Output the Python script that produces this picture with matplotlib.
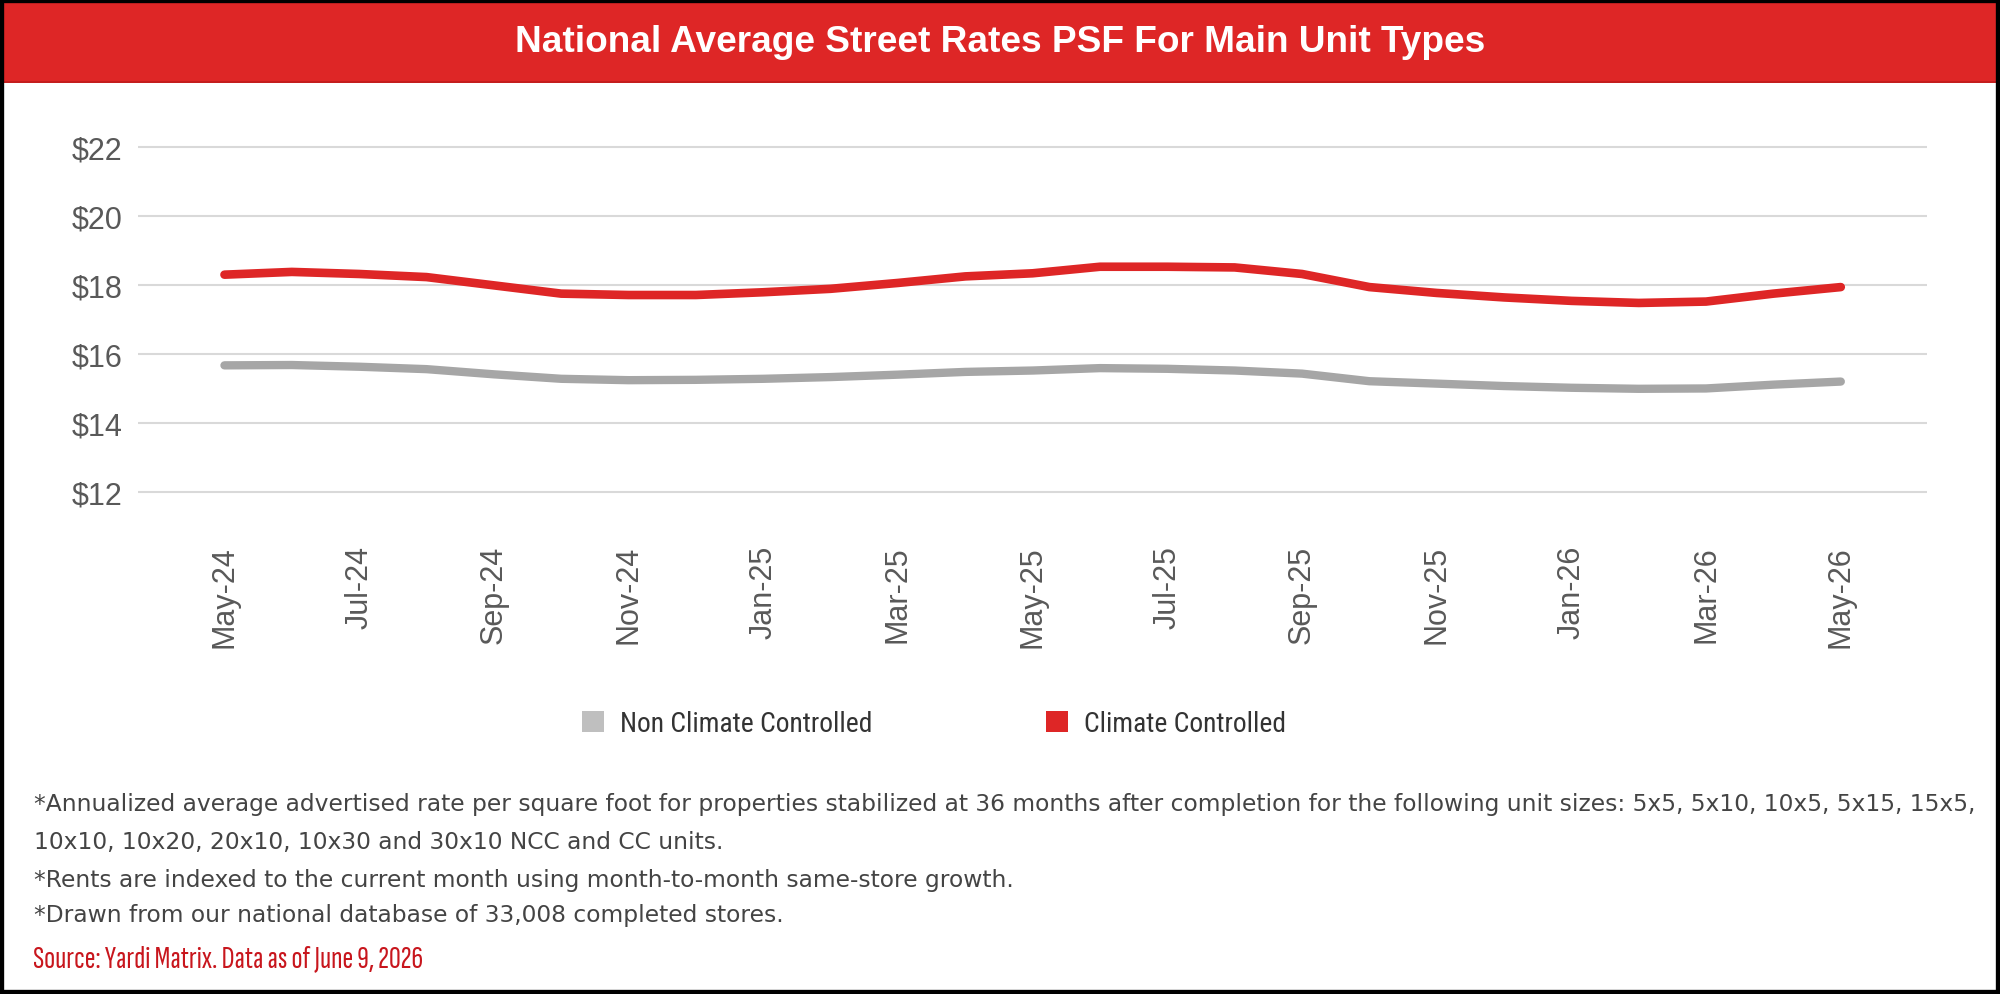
import matplotlib
matplotlib.use('Agg')
import matplotlib.pyplot as plt
from matplotlib import font_manager
from matplotlib.patches import Rectangle, Patch

# --- Data ---
months = ['May-24', 'Jun-24', 'Jul-24', 'Aug-24', 'Sep-24', 'Oct-24', 'Nov-24', 'Dec-24',
          'Jan-25', 'Feb-25', 'Mar-25', 'Apr-25', 'May-25', 'Jun-25', 'Jul-25', 'Aug-25',
          'Sep-25', 'Oct-25', 'Nov-25', 'Dec-25', 'Jan-26', 'Feb-26', 'Mar-26', 'Apr-26', 'May-26']
climate = [18.29, 18.37, 18.31, 18.22, 17.98, 17.74, 17.70, 17.70, 17.78, 17.88, 18.05, 18.24,
           18.33, 18.52, 18.52, 18.50, 18.31, 17.93, 17.76, 17.63, 17.53, 17.47, 17.51, 17.74, 17.93]
non_climate = [15.66, 15.67, 15.62, 15.55, 15.40, 15.27, 15.23, 15.24, 15.27, 15.32, 15.39, 15.47,
               15.51, 15.58, 15.56, 15.51, 15.42, 15.20, 15.13, 15.06, 15.01, 14.98, 14.99, 15.10, 15.19]
y_ticks = [12, 14, 16, 18, 20, 22]
series_names = ['Non Climate Controlled', 'Climate Controlled']

title = 'National Average Street Rates PSF For Main Unit Types'
notes = [
    '*Annualized average advertised rate per square foot for properties stabilized at 36 months after completion for the following unit sizes: 5x5, 5x10, 10x5, 5x15, 15x5,',
    '10x10, 10x20, 20x10, 10x30 and 30x10 NCC and CC units.',
    '*Rents are indexed to the current month using month-to-month same-store growth.',
    '*Drawn from our national database of 33,008 completed stores.',
]
source = 'Source: Yardi Matrix. Data as of June 9, 2026'

RED = '#DE2626'
GRAY = '#A6A6A6'
TXT = '#595959'


def pick(*names):
    for name in names:
        try:
            font_manager.findfont(name, fallback_to_default=False)
            return name
        except Exception:
            pass
    return 'DejaVu Sans'


ARIAL = pick('Liberation Sans')
COND = pick('Roboto Condensed', 'Open Sans Condensed', 'Liberation Sans Narrow')
NARROW = pick('Sofia Sans Extra Condensed', 'Fira Sans Extra Condensed', 'Roboto Condensed')
NOTE = pick('DejaVu Sans')

W, H = 2000, 995
fig = plt.figure(figsize=(W / 100, H / 100), dpi=100)
renderer = fig.canvas.get_renderer()


def fit(t, width_px):
    # scale a text so it spans width_px pixels
    w = t.get_window_extent(renderer=renderer).width
    t.set_fontsize(t.get_fontsize() * width_px / w)
    return t


# title band
fig.patches.append(Rectangle((0, 1 - 83 / H), 1, 83 / H, transform=fig.transFigure,
                             facecolor=RED, edgecolor='none', zorder=0))
fig.patches.append(Rectangle((0, 1 - 84 / H), 1, 2 / H, transform=fig.transFigure,
                             facecolor='#C41E1E', edgecolor='none', zorder=0))
t = fig.text(0.5, 1 - 43 / H, title, ha='center', va='center', color='white',
             fontsize=26, fontweight='bold', family=ARIAL)
fit(t, 969)

# plot area
left, right = 138 / W, 1927 / W
bottom, top = 1 - 496 / H, 1 - 144.3 / H
ax = fig.add_axes([left, bottom, right - left, top - bottom])
x = list(range(len(months)))
ax.plot(x, non_climate, color=GRAY, lw=6, solid_capstyle='round', solid_joinstyle='round', zorder=3)
ax.plot(x, climate, color=RED, lw=6.2, solid_capstyle='round', solid_joinstyle='round', zorder=4)

ax.set_xlim(-1.284, 25.28)
ax.set_ylim(11.9, 22.1)
ax.set_yticks(y_ticks)
ax.set_yticklabels([f'${v}' for v in y_ticks])
ax.set_xticks(x[::2])
ax.set_xticklabels(months[::2], rotation=90)
ax.grid(axis='y', color='#D9D9D9', lw=1.5)
ax.set_axisbelow(True)
for s in ax.spines.values():
    s.set_visible(False)
ax.tick_params(axis='both', length=0, labelsize=22, labelcolor=TXT)
ax.tick_params(axis='y', pad=11)
ax.tick_params(axis='x', pad=36)
for lab in ax.get_xticklabels() + ax.get_yticklabels():
    lab.set_family(ARIAL)

# legend: size the font so "Non Climate Controlled" is ~253 px wide
probe = fig.text(0, 0, series_names[0], fontsize=22, family=COND)
leg_size = fit(probe, 253).get_fontsize()
probe.remove()
em = leg_size * 100 / 72
handles = [Patch(facecolor='#BFBFBF', edgecolor='none'), Patch(facecolor=RED, edgecolor='none')]
fig.legend(handles, series_names, loc='center left', bbox_to_anchor=(582 / W, 1 - 725 / H),
           ncol=2, frameon=False, borderpad=0, borderaxespad=0, handlelength=22 / em,
           handleheight=22 / em, handletextpad=16 / em, columnspacing=174 / em,
           prop={'family': COND, 'size': leg_size}, labelcolor='#333333')

# footnotes
t = fig.text(34 / W, 1 - 805 / H, notes[0], ha='left', va='center', fontsize=16,
             color='#444444', family=NOTE)
note_size = fit(t, 1948).get_fontsize()
for txt, yy in zip(notes[1:], [843, 880, 916]):
    fig.text(34 / W, 1 - yy / H, txt, ha='left', va='center', fontsize=note_size,
             color='#444444', family=NOTE)
t = fig.text(33 / W, 1 - 959 / H, source, ha='left', va='center', fontsize=18,
             color='#C8161D', family=NARROW)
fit(t, 390)

# outer frame
fig.patches.append(Rectangle((0, 0), 1, 1, transform=fig.transFigure, facecolor='none',
                             edgecolor='black', lw=6, zorder=10))

fig.savefig('out.png', dpi=100)
